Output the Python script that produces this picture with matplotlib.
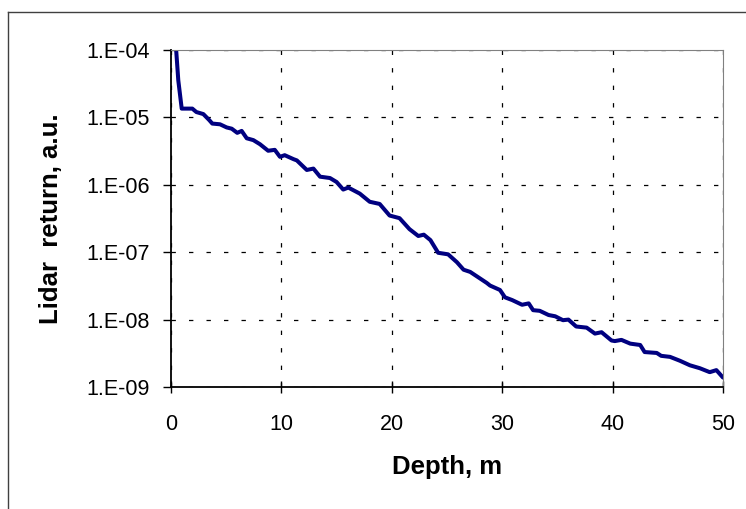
import math
import matplotlib
matplotlib.use("Agg")
import matplotlib.pyplot as plt
from matplotlib.ticker import FuncFormatter
from matplotlib.lines import Line2D

plt.rcParams['font.family'] = ['Liberation Sans', 'DejaVu Sans']

# depth (m) and lidar return (a.u.)
depth = [0.45, 0.66, 0.97, 1.93, 2.3, 2.93, 3.47, 3.74, 4.44, 5.04, 5.5, 6.0, 6.4, 6.86,
         7.46, 8.06, 8.8, 9.4, 9.87, 10.3, 11.1, 11.4, 12.3, 12.9, 13.5, 14.4, 15.0,
         15.6, 16.06, 17.1, 18.0, 18.9, 19.8, 20.7, 21.6, 22.4, 22.9, 23.5, 24.2, 25.1,
         25.9, 26.5, 27.1, 28.6, 28.9, 29.8, 30.25, 30.9, 31.8, 32.4, 32.8, 33.4, 34.2,
         34.8, 35.5, 36.0, 36.7, 37.65, 38.4, 39.0, 39.9, 40.2, 40.8, 41.6, 42.5, 42.9,
         44.0, 44.4, 45.2, 46.1, 47.0, 47.9, 48.8, 49.4, 50.0]
lidar = [1.1e-4, 3.55e-5, 1.35e-5, 1.35e-5, 1.20e-5, 1.12e-5, 9.1e-6, 8.1e-6, 7.9e-6,
         7.1e-6, 6.8e-6, 5.9e-6, 6.3e-6, 4.9e-6, 4.6e-6, 4.0e-6, 3.2e-6, 3.3e-6, 2.6e-6,
         2.75e-6, 2.4e-6, 2.3e-6, 1.66e-6, 1.74e-6, 1.32e-6, 1.26e-6, 1.10e-6, 8.5e-7,
         9.1e-7, 7.4e-7, 5.6e-7, 5.2e-7, 3.5e-7, 3.2e-7, 2.2e-7, 1.74e-7, 1.82e-7, 1.51e-7,
         9.8e-8, 9.3e-8, 7.1e-8, 5.5e-8, 5.1e-8, 3.5e-8, 3.2e-8, 2.75e-8, 2.14e-8, 1.95e-8,
         1.66e-8, 1.74e-8, 1.38e-8, 1.35e-8, 1.17e-8, 1.12e-8, 9.8e-9, 1.0e-8, 7.9e-9,
         7.6e-9, 6.2e-9, 6.5e-9, 4.9e-9, 4.8e-9, 5.0e-9, 4.4e-9, 4.2e-9, 3.3e-9, 3.2e-9,
         2.9e-9, 2.8e-9, 2.45e-9, 2.1e-9, 1.9e-9, 1.66e-9, 1.78e-9, 1.38e-9]

x_ticks = [0, 10, 20, 30, 40, 50]
y_ticks = [1e-9, 1e-8, 1e-7, 1e-6, 1e-5, 1e-4]

fig = plt.figure(figsize=(7.46, 5.09), dpi=100)
ax = fig.add_axes([171/746, 1-387/509, (723-171)/746, (387-50)/509])

ax.plot(depth, lidar, color='#000080', lw=2.9, solid_joinstyle='round', solid_capstyle='round')
ax.set_yscale('log')
ax.set_xlim(0, 50)
ax.set_ylim(1e-9, 1e-4)
ax.set_xticks(x_ticks)
ax.set_yticks(y_ticks)
ax.yaxis.set_minor_locator(plt.NullLocator())
ax.yaxis.set_major_formatter(FuncFormatter(lambda v, p: "1.E-%02d" % round(-math.log10(v))))

ax.grid(True, color='black', lw=0.9, linestyle=(0, (3.5, 10.5)))
ax.set_axisbelow(True)

for s in ['top', 'right']:
    ax.spines[s].set_color('#808080')
    ax.spines[s].set_linewidth(0.8)
for s in ['left', 'bottom']:
    ax.spines[s].set_color('black')
    ax.spines[s].set_linewidth(1.3)

ax.tick_params(axis='y', direction='out', length=6, width=1, labelsize=15.5, pad=9)
ax.tick_params(axis='x', direction='inout', length=9, width=1, labelsize=15.5, pad=15)

ax.set_xlabel('Depth, m', fontsize=18.5, fontweight='bold', labelpad=14)
ax.set_ylabel('Lidar  return, a.u.', fontsize=18.5, fontweight='bold', labelpad=17)

# outer chart border (left and top only are visible)
fig.add_artist(Line2D([8/746, 8/746], [0, 1-12/509], transform=fig.transFigure, color='#404040', lw=1))
fig.add_artist(Line2D([8/746, 1], [1-12/509, 1-12/509], transform=fig.transFigure, color='#404040', lw=1))

fig.savefig('out.png', dpi=100)
